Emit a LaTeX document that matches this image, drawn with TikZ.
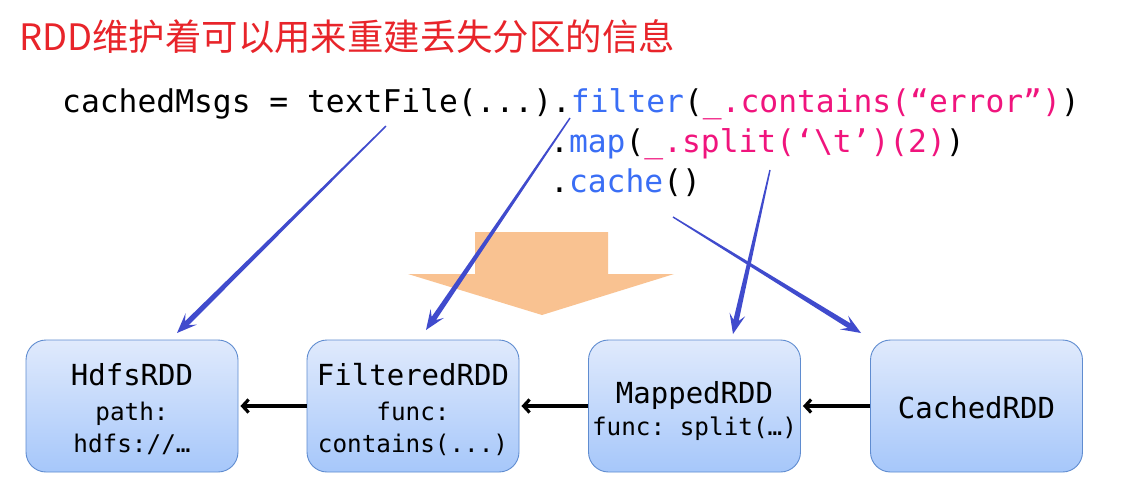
\documentclass[tikz,border=0pt]{standalone}
\usepackage{fontspec}
\usetikzlibrary{calc,arrows.meta}
\newfontfamily\cjk{Noto Sans CJK SC}
\newfontfamily\codefont{DejaVu Sans Mono}
\frenchspacing
\definecolor{titlered}{RGB}{232,36,42}
\definecolor{codeblue}{RGB}{58,110,245}
\definecolor{codepink}{RGB}{240,20,125}
\definecolor{arrblue}{RGB}{64,75,205}
\definecolor{arrorange}{RGB}{249,194,145}
\definecolor{boxtop}{RGB}{224,234,252}
\definecolor{boxbot}{RGB}{166,199,250}
\definecolor{boxline}{RGB}{95,140,208}
\newcommand\taparrow[2]{%
  \path coordinate (hA) at ($(#2)!14pt!(#1)$)
        coordinate (hB) at ($(#2)!20pt!(#1)$);
  \fill[arrblue] ($(#1)!0.7pt!90:(#2)$) -- ($(hA)!2.7pt!90:(#2)$) -- ($(hB)!8pt!90:(#2)$) -- (#2)
     -- ($(hB)!8pt!-90:(#2)$) -- ($(hA)!2.7pt!-90:(#2)$) -- ($(#1)!0.7pt!-90:(#2)$) -- cycle;}
\begin{document}
\begin{tikzpicture}[x=1pt,y=-1pt,
  rddbox/.style={draw=boxline, line width=0.9pt, rounded corners=20pt,
     top color=boxtop, bottom color=boxbot, minimum width=212pt, minimum height=132pt},
  bigt/.style={font=\codefont\frenchspacing\fontsize{29}{34}\selectfont, anchor=base, inner sep=0pt},
  smallt/.style={font=\codefont\frenchspacing\fontsize{24.3}{28}\selectfont, anchor=base, inner sep=0pt},
  code/.style={font=\codefont\frenchspacing\fontsize{31.3}{36}\selectfont, anchor=base west, inner sep=0pt},
  link/.style={line width=3.2pt, -{Straight Barb[length=6pt,width=13pt]}, shorten >=2pt}]
\fill[white] (0,0) rectangle (1124,495);
\useasboundingbox (0,0) rectangle (1124,495);

% title
\node[anchor=base west, inner sep=0pt, text=titlered, font=\cjk\fontsize{36.4}{42}\selectfont] (title) at (19,51) {RDD维护着可以用来重建丢失分区的信息};

% code
\node[code] (line1) at (62,112) {cachedMsgs = textFile(...).\textcolor{codeblue}{filter}(\textcolor{codepink}{\_.contains(“error”)})};
\node[code] (line2) at (550,152) {.\textcolor{codeblue}{map}(\textcolor{codepink}{\_.split(‘\textbackslash t’)(2)})};
\node[code] (line3) at (550,192) {.\textcolor{codeblue}{cache}()};

% orange arrow
\fill[arrorange] (475,232) -- (608,232) -- (608,274) -- (674,274) -- (542,315) -- (408,274) -- (475,274) -- cycle;

% boxes
\node[rddbox] (hdfs) at (132,406) {};
\node[rddbox] (filt) at (413,406) {};
\node[rddbox] (mapd) at (694.5,406) {};
\node[rddbox] (cach) at (976.5,406) {};

\node[bigt] (h1) at (132,385) {HdfsRDD};
\node[smallt] (h2) at (132,420) {path:};
\node[smallt] (h3) at (132,452) {hdfs://…};
\node[bigt] (f1) at (413,385) {FilteredRDD};
\node[smallt] (f2) at (413,420) {func:};
\node[smallt] (f3) at (413,452) {contains(...)};
\node[bigt] (m1) at (694.5,403) {MappedRDD};
\node[smallt] (m2) at (694.5,435) {func: split(…)};
\node[bigt] (c1) at (976.5,418) {CachedRDD};

% lineage arrows
\draw[link] (filt.west) -- (hdfs.east);
\draw[link] (mapd.west) -- (filt.east);
\draw[link] (cach.west) -- (mapd.east);

% blue pointer arrows
\coordinate (s1) at (386,126);
\coordinate (t1) at (177,333);
\coordinate (s2) at (570,118);
\coordinate (t2) at (426,330);
\coordinate (s3) at (770,170);
\coordinate (t3) at (733,334);
\coordinate (s4) at (673,217);
\coordinate (t4) at (861,333);
\taparrow{s1}{t1}
\taparrow{s2}{t2}
\taparrow{s3}{t3}
\taparrow{s4}{t4}
\end{tikzpicture}
\end{document}
